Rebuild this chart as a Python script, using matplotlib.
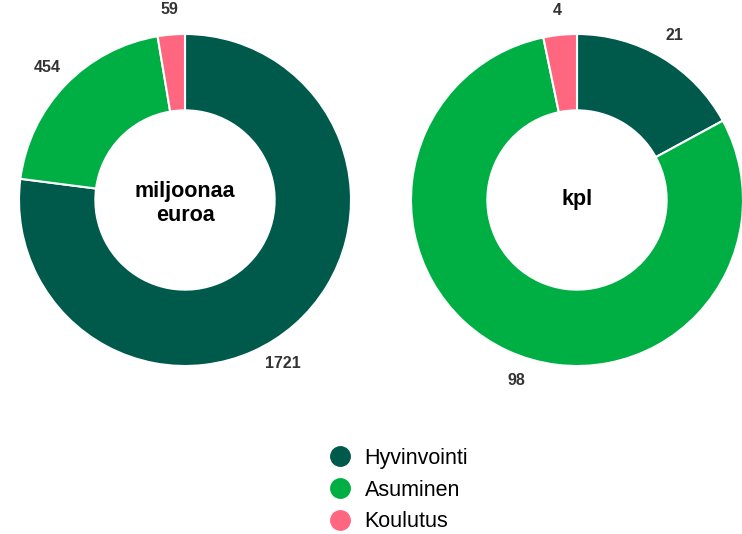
import numpy as np
import matplotlib

matplotlib.use("Agg")
from matplotlib import pyplot as plt
from matplotlib.lines import Line2D

categories = ["Hyvinvointi", "Asuminen", "Koulutus"]
colors = ["#005a4b", "#00af43", "#ff6680"]
euro_values = [1721, 454, 59]
count_values = [21, 98, 4]
center_labels = ["miljoonaa\neuroa", "kpl"]

plt.rcParams["font.family"] = ["Liberation Sans", "DejaVu Sans"]

W, H = 742, 534
fig = plt.figure(figsize=(W / 100, H / 100), dpi=100)

radius_px = 166
centers_px = [(185, 200), (577, 200)]


def donut(ax, values, center_text, text_dy):
    ax.pie(
        values,
        colors=colors,
        startangle=90,
        counterclock=False,
        radius=1.0,
        wedgeprops=dict(width=0.46, edgecolor="white", linewidth=1.5),
    )
    total = sum(values)
    start = 90.0
    for value in values:
        sweep = 360.0 * value / total
        mid = start - sweep / 2
        start -= sweep
        # labels in the lower half drift a little towards the bottom
        if np.sin(np.deg2rad(mid)) < 0:
            mid = mid + 0.25 * (-90 - ((mid + 180) % 360 - 180))
        r = 1.15
        a = np.deg2rad(mid)
        ax.text(r * np.cos(a), r * np.sin(a), str(value), ha="center", va="center",
                fontsize=11.5, fontweight="bold", color="#333333", clip_on=False)
    ax.text(0, text_dy, center_text, ha="center", va="center", fontsize=15.5,
            fontweight="bold", color="black", linespacing=1.15)
    ax.set_xlim(-1, 1)
    ax.set_ylim(-1, 1)


for (cx, cy), values, label, dy in zip(centers_px, [euro_values, count_values],
                                       center_labels, [-0.02, 0.0]):
    ax = fig.add_axes([
        (cx - radius_px) / W,
        (H - cy - radius_px) / H,
        2 * radius_px / W,
        2 * radius_px / H,
    ])
    donut(ax, values, label, dy)

handles = [
    Line2D([], [], marker="o", linestyle="none", markersize=14, color=c)
    for c in colors
]
fig.legend(
    handles, categories,
    loc="upper left", bbox_to_anchor=(329 / W, 1 - 448 / H),
    frameon=False, fontsize=15.5, handlelength=1.0, handletextpad=0.66,
    labelspacing=0.49, borderpad=0, borderaxespad=0,
)

fig.savefig("out.png", dpi=100)
plt.close(fig)
